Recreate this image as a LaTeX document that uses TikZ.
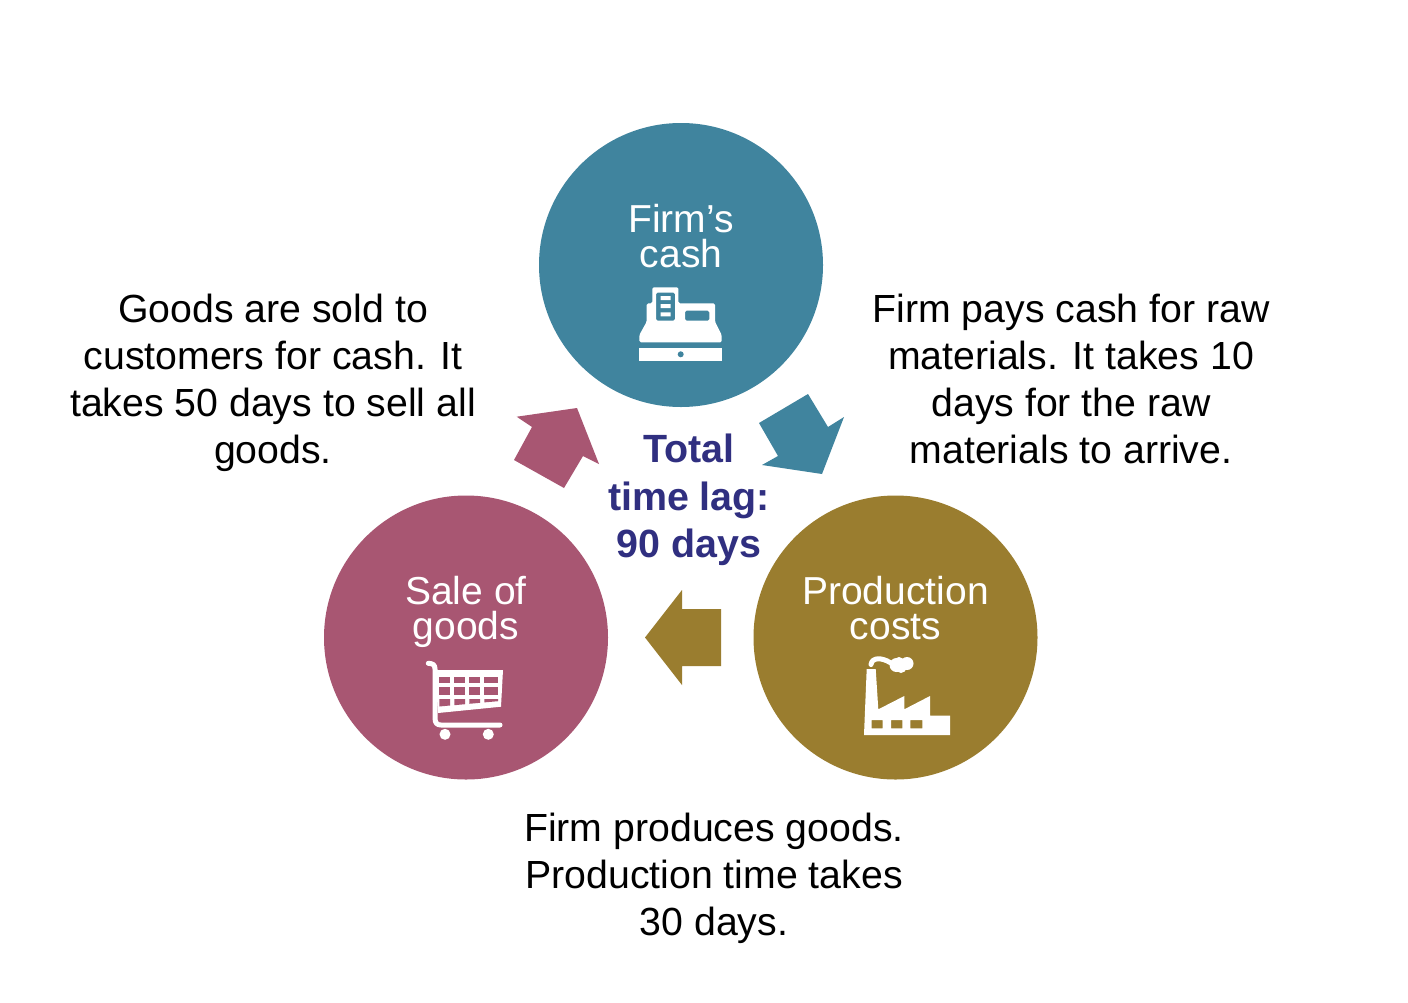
\documentclass[tikz,border=0pt]{standalone}
\usepackage{fontspec}
\setmainfont{Liberation Sans}
\definecolor{tealc}{HTML}{40849E}
\definecolor{pinkc}{HTML}{A85672}
\definecolor{goldc}{HTML}{9A7D2F}
\definecolor{navyc}{HTML}{302F80}
\tikzset{
  disc/.style={circle,minimum size=284pt,inner sep=0pt,draw=none},
  body/.style={font=\fontsize{39.25}{47}\selectfont,align=center,text=black,inner sep=0pt},
  incircle/.style={font=\fontsize{39}{35}\selectfont,align=center,text=white,inner sep=0pt},
  lag/.style={font=\fontsize{39.4}{47.5}\selectfont\bfseries,align=center,text=navyc,inner sep=0pt},
  icon/.style={fill=white,draw=none},
}
\begin{document}
\begin{tikzpicture}[x=1pt,y=-1pt]
\useasboundingbox (0,0) rectangle (1408,1002);
\fill[white] (0,0) rectangle (1408,1002);
% circles
\node[disc,fill=tealc] (cash) at (681,265) {};
\node[disc,fill=goldc] (prod) at (895.5,637.5) {};
\node[disc,fill=pinkc] (sale) at (466,637.5) {};
% block arrows
\fill[pinkc] (516.7,416.7)--(577,408)--(599,464)--(583,456)--(564,488)--(514,460)--(532,427)--cycle;
\fill[tealc] (808,394)--(828,427)--(844,417)--(822,474)--(762,465)--(778,456)--(759,423)--cycle;
\fill[goldc] (682,590)--(645,637.5)--(682,685)--(682,666)--(721,666)--(721,609)--(682,609)--cycle;
% circle labels
\node[incircle] (tcash) at (681,236) {Firm’s\\cash};
\node[incircle] (tprod) at (895.5,608) {Production\\costs};
\node[incircle] (tsale) at (466,611.5) {Sale of\\goods};
% body texts
\node[body] (tleft) at (273,382.5) {Goods are sold to\\customers for cash. It\\takes 50 days to sell all\\goods.};
\node[body] (tright) at (1071,379) {Firm pays cash for raw\\materials. It takes 10\\days for the raw\\materials to arrive.};
\node[body] (tbottom) at (714,878.5) {Firm produces goods.\\Production time takes\\30 days.};
\node[lag] (tlag) at (689,500) {Total\\time lag:\\90 days};
% register icon
\fill[icon,even odd rule,rounded corners=1.5pt]
  (652.3,287.3)--(678.3,287.3)--(678.3,303.3)--(715,303.3)--(715,321.7)--(721.7,335)--(721.7,342.3)--(639.3,342.3)--(639.3,335)--(646.7,321.7)--(646.7,303.3)--(652.3,303.3)--cycle
  (656,292.7) rectangle (675,320.7)
  (685,310.7) rectangle (709.3,320.7);
\fill[icon] (660.7,296) rectangle (670.7,300) (660.7,304) rectangle (670.7,308) (660.7,312.3) rectangle (670.7,316.3);
\fill[icon] (639.3,347.7) rectangle (721.7,361);
\fill[tealc] (680.7,354.3) circle (3);
% factory icon
\fill[icon,even odd rule]
  (866.7,669)--(875.7,669)--(878.3,709.3)--(904.3,696)--(904.3,709.3)--(930,696)--(930,715.7)--(950,715.7)--(950,735)--(864,735)--cycle
  (871.7,720) rectangle (882.7,728.3)
  (891,720) rectangle (902.3,728.3)
  (910.3,720) rectangle (922.3,728.3);
\draw[white,line width=5pt,line cap=round] (871,664.5) .. controls (872,657) and (882,657.5) .. (890,662.5);
\fill[icon] (896.5,665) circle (7) (901,667.5) circle (5.5) (899,662) circle (5) (907,663.5) circle (6.5);
% cart icon
\draw[white,line width=5pt,line cap=round,line join=round] (428.3,663.3) .. controls (433,663.5) and (435,665) .. (435,669) -- (435,718) .. controls (435,723) and (437,725) .. (441,725) -- (500,725);
\fill[icon] (435,670) -- (503,670) -- (501,706.7) -- (438,713) -- cycle;
\foreach \xa/\xb in {439.3/450,454.3/465,469.3/480,484.3/498}{
  \fill[pinkc] (\xa,676.5) rectangle (\xb,683.3);
  \fill[pinkc] (\xa,687.3) rectangle (\xb,695);
}
\fill[pinkc] (439.3,699) -- (450,699) -- (450,705.5) -- (439.3,706.5) -- cycle;
\fill[pinkc] (454.3,699) -- (465,699) -- (465,704.2) -- (454.3,705.2) -- cycle;
\fill[pinkc] (469.3,699) -- (480,699) -- (480,702.8) -- (469.3,703.8) -- cycle;
\fill[pinkc] (484.3,699) -- (498,699) -- (498,701.2) -- (484.3,702.4) -- cycle;
\fill[icon] (445,734.3) circle (5.5) (488.3,734.3) circle (5.5);
\end{tikzpicture}
\end{document}
